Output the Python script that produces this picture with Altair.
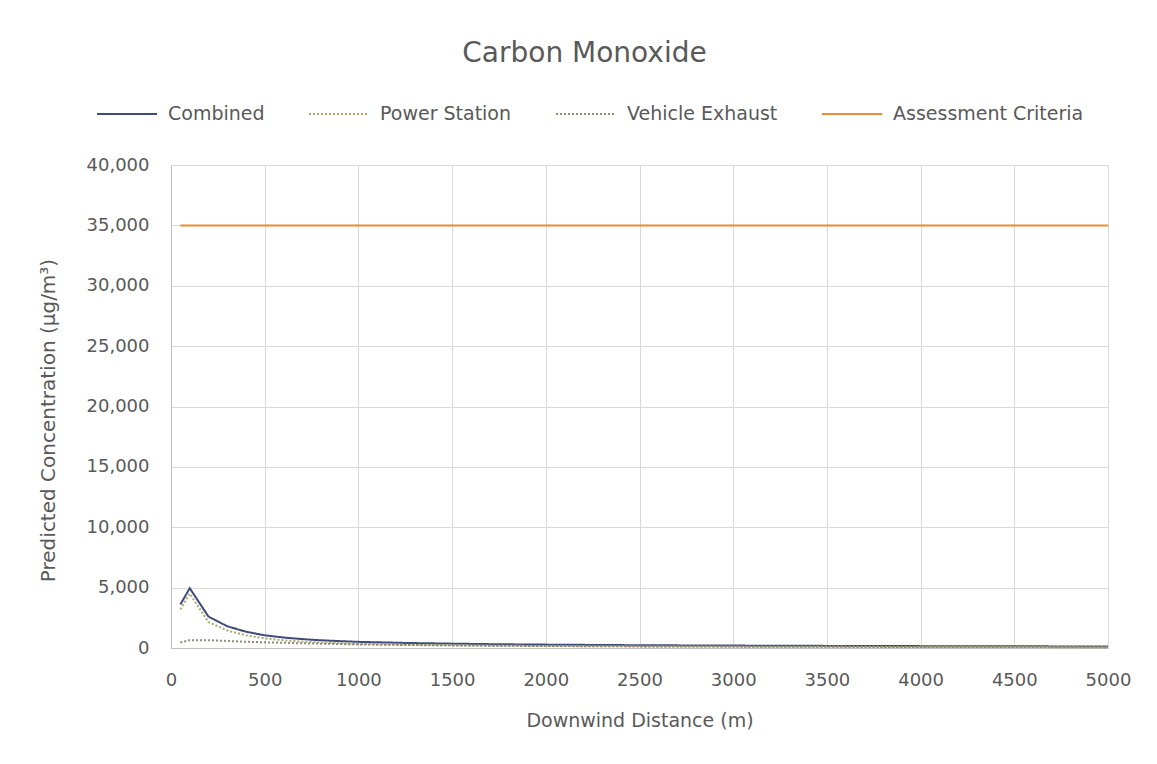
import altair as alt
import pandas as pd

distance = [50, 100, 200, 300, 400, 500, 600, 700, 800, 900, 1000, 1250, 1500,
            1750, 2000, 2500, 3000, 3500, 4000, 4500, 5000]
combined = [3600, 4950, 2600, 1800, 1350, 1050, 870, 740, 640, 570, 510, 420, 360,
            310, 280, 230, 200, 175, 155, 140, 125]
power_station = [3200, 4500, 2150, 1450, 1050, 800, 640, 530, 450, 390, 340, 270, 220,
                 190, 165, 130, 110, 95, 85, 75, 68]
vehicle_exhaust = [450, 650, 650, 580, 520, 470, 430, 390, 360, 330, 300, 250, 215,
                   185, 165, 135, 115, 100, 88, 78, 70]
criteria = [35000] * len(distance)

series_names = ["Combined", "Power Station", "Vehicle Exhaust", "Assessment Criteria"]
series_values = [combined, power_station, vehicle_exhaust, criteria]
series_colors = ["#3E4C7C", "#A8A86A", "#95887A", "#ED8B2F"]
series_dash = [[1, 0], [2, 2], [2, 2], [1, 0]]

rows = []
for name, vals in zip(series_names, series_values):
    for d, v in zip(distance, vals):
        rows.append({"distance": d, "value": v, "series": name})
df = pd.DataFrame(rows)

FONT = "DejaVu Sans"
GREY = "#595959"

chart = alt.Chart(df).mark_line(strokeWidth=2).encode(
    x=alt.X("distance:Q",
            scale=alt.Scale(domain=[0, 5000], nice=False, zero=False),
            axis=alt.Axis(values=list(range(0, 5001, 500)), title="Downwind Distance (m)",
                          format="d", labelFlush=False)),
    y=alt.Y("value:Q",
            scale=alt.Scale(domain=[0, 40000], nice=False),
            axis=alt.Axis(values=list(range(0, 40001, 5000)), format=",.0f",
                          title="Predicted Concentration (µg/m³)")),
    color=alt.Color("series:N", sort=series_names,
                    scale=alt.Scale(domain=series_names, range=series_colors),
                    legend=alt.Legend(title=None)),
    strokeDash=alt.StrokeDash("series:N", sort=series_names,
                              scale=alt.Scale(domain=series_names, range=series_dash),
                              legend=alt.Legend(title=None)),
    order=alt.Order("distance:Q"),
).properties(
    width=937,
    height=483,
    autosize=alt.AutoSizeParams(type="none"),
    padding={"left": 163, "top": 157, "right": 40, "bottom": 90},
    title=alt.TitleParams("Carbon Monoxide", fontSize=28, font=FONT, fontWeight="normal",
                          color=GREY, anchor="middle", frame="group", offset=15, dx=-55),
).configure_view(
    stroke=None
).configure_axis(
    labelFont=FONT, labelFontSize=18, labelColor=GREY,
    titleFont=FONT, titleFontSize=19, titleColor=GREY, titleFontWeight="normal",
    gridColor="#D9D9D9", gridWidth=1, domainColor="#BFBFBF",
    ticks=False,
).configure_axisX(
    labelPadding=23, titlePadding=22, domain=True,
).configure_axisY(
    labelPadding=22, titlePadding=28, titleFontSize=20, titleY=255, domain=True,
).configure_legend(
    orient="none", legendX=-75, legendY=-82, direction="horizontal", columns=4,
    symbolType="stroke", symbolSize=3600, symbolStrokeWidth=2,
    labelFont=FONT, labelFontSize=19, labelColor=GREY, labelOffset=10, labelLimit=0,
    columnPadding=40,
)

chart.save("out.html", embed_options={"renderer": "svg", "actions": False})
